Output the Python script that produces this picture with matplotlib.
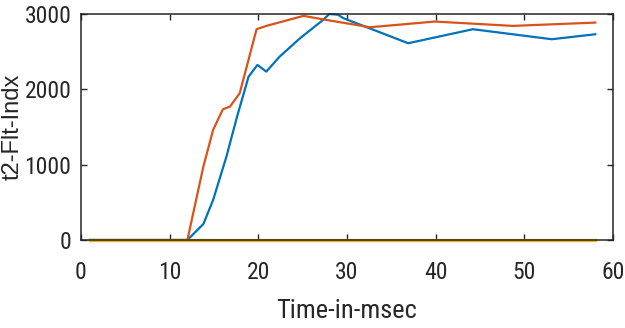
import matplotlib
matplotlib.use("Agg")
import matplotlib.pyplot as plt

# Data
blue_t = [1, 12, 13.8, 14.9, 16.4, 17.6, 18.9, 19.9, 20.9, 22.4, 24.7, 27.3, 28, 29, 29.6, 36.9, 44.2, 53.1, 58]
blue_y = [0, 0, 212, 531, 1106, 1637, 2169, 2324, 2235, 2434, 2678, 2921, 3000, 2990, 2944, 2612, 2798, 2665, 2731]
red_t = [1, 12, 13.8, 14.9, 16.0, 16.8, 17.9, 19.8, 20.9, 25.1, 27.7, 32.6, 39.9, 48.7, 58]
red_y = [0, 0, 974, 1461, 1735, 1771, 1948, 2798, 2842, 2975, 2921, 2824, 2900, 2842, 2886]
yel_t = [1, 58]
yel_y = [0, 0]
xticks = [0, 10, 20, 30, 40, 50, 60]
yticks = [0, 1000, 2000, 3000]

plt.rcParams['font.family'] = ['Roboto Condensed', 'Liberation Sans', 'DejaVu Sans']

fig = plt.figure(figsize=(6.25, 3.28), dpi=100)
ax = fig.add_axes([81/625, 1-240/328, (613-81)/625, (240-14)/328])

ax.plot(blue_t, blue_y, color='#0072BD', lw=1.6, clip_on=False)
ax.plot(red_t, red_y, color='#D95319', lw=1.6, clip_on=False)
ax.plot(yel_t, yel_y, color='#EDB120', lw=2.4, clip_on=False)

ax.set_xlim(0, 60)
ax.set_ylim(0, 3000)
ax.set_xticks(xticks)
ax.set_yticks(yticks)
axcol = '#262626'
for s in ax.spines.values():
    s.set_color(axcol)
    s.set_linewidth(1.1)
ax.tick_params(direction='in', length=4, width=1, colors=axcol, labelcolor='#262626',
               labelsize=17, top=True, right=True)
ax.tick_params(axis='x', pad=15)
ax.tick_params(axis='y', pad=7)

ax.set_xlabel('Time-in-msec', fontsize=19, color='#262626', labelpad=11)
ax.set_ylabel('t2-Flt-Indx', fontsize=17, color='#262626', family=['Liberation Sans', 'DejaVu Sans'])
ax.yaxis.set_label_coords(-0.108, 0.5)

fig.savefig('out.png', dpi=100)
